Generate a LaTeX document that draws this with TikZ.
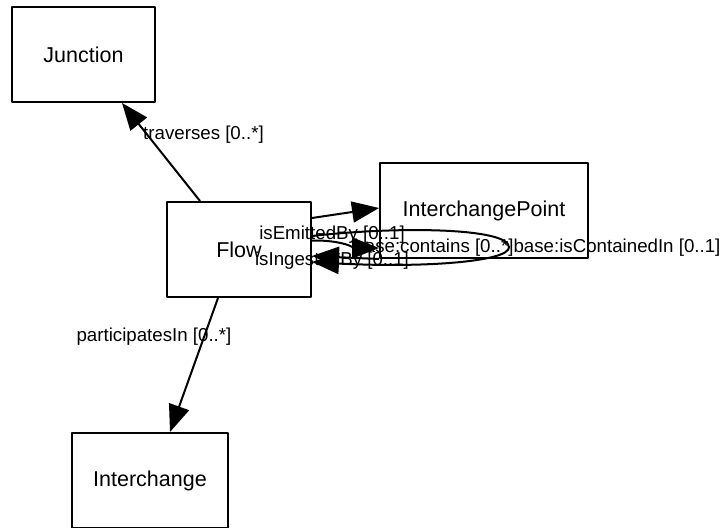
\documentclass[tikz,border=0pt]{standalone}
\usepackage{fontspec}
\setmainfont{Liberation Sans}
\usetikzlibrary{arrows.meta}

\tikzset{
	cls/.style={draw, line width=2pt, line join=round, inner sep=0pt, minimum height=95pt, font=\fontsize{21.5}{24}\selectfont},
	rel/.style={line width=2pt, -{Triangle[length=27pt,width=21pt]}},
	lbl/.style={inner sep=0pt, font=\fontsize{18.7}{21}\selectfont}
}

\begin{document}
\begin{tikzpicture}[x=1pt,y=-1pt]
			%%%%% START %%%%%
			\def\pagew{727}
			\def\pageh{527}
			\useasboundingbox (0,0) rectangle (\pagew,\pageh);
			
			% classes
			\node[cls, minimum width=143pt] (junction) at (83.5,54.5) {Junction};
			\node[cls, minimum width=144pt] (flow) at (239,249.5) {Flow};
			\node[cls, minimum width=208pt] (ipoint) at (484,210.5) {InterchangePoint};
			\node[cls, minimum width=156pt] (interchange) at (150,480.5) {Interchange};
			
			% labels
			\node[lbl] (ltraverses) at (203.5,135) {traverses [0..*]};
			\node[lbl] (lpart) at (154,337) {participatesIn [0..*]};
			\node[lbl] (lemitted) at (332,235) {isEmittedBy [0..1]};
			\node[lbl] (lingested) at (332,261) {isIngestedBy [0..1]};
			\node[lbl] (lcontains) at (434,248) {base:contains [0..*]};
			\node[lbl] (lcontained) at (617,248) {base:isContainedIn [0..1]};
			
			% relations
			\draw[rel] ([xshift=-39pt]flow.north) -- ([xshift=38.5pt]junction.south);
			\draw[rel] ([xshift=-21pt]flow.south) -- ([xshift=20pt]interchange.north);
			\draw[rel] ([yshift=31.5pt]flow.east) -- ([yshift=2.5pt]ipoint.west);
			\draw[rel] ([yshift=9pt]flow.east) .. controls (342,240) and (356,248) .. ([yshift=-37.5pt]ipoint.west);
			\draw[rel] (ipoint.south west) -- ([yshift=-6.5pt]flow.east);
			\draw[rel] ([yshift=13.5pt]flow.east) .. controls (400,226) and (508,228) .. (509,247)
				.. controls (510,262) and (420,268) .. ([yshift=-12.5pt]flow.east);
			%%%%% END %%%%%
		\end{tikzpicture}
\end{document}
